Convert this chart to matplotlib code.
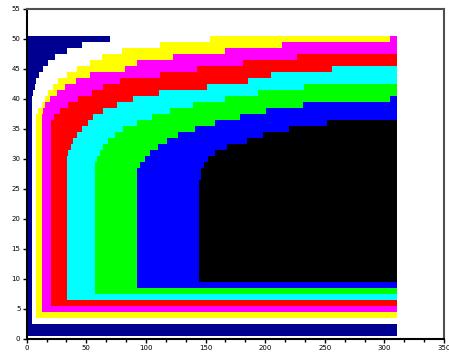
import matplotlib
matplotlib.use("Agg")
import matplotlib.pyplot as plt
import numpy as np
from matplotlib.ticker import MultipleLocator


X_RIGHT = 310.5
Y_TOP = 50.5
NAVY = "#000090"

# colour levels drawn over the navy background, outer to inner
level_colors = ["#ffffff", "#ffff00", "#ff00ff", "#ff0000",
                "#00ffff", "#00ff00", "#0000ff", "#000000"]
level_bottom = [2.5, 3.5, 4.5, 5.5, 6.5, 7.5, 8.5, 9.5]

# staircase tops: for x >= *_x[i] the level reaches *_top[i]
white_x = [4.5, 5.5, 7, 8, 10, 14, 18, 24, 34, 46, 70]
white_top = [40.5, 41.5, 42.5, 43.5, 44.5, 45.5, 46.5, 47.5, 48.5, 49.5, 50.5]

yellow_x = [7.5, 9.7, 12.6, 15.4, 18, 22.3, 26.5, 33.6, 42, 53, 63, 79.7, 111.8, 153.8]
yellow_top = [37.5, 38.5, 39.5, 40.5, 41.5, 42.5, 43.5, 44.5, 45.5, 46.5, 47.5,
              48.5, 49.5, 50.5]

magenta_x = [12.5, 13.6, 15.4, 19.5, 25, 32, 41.7, 53, 82.5, 92.8, 123, 166, 214, 305]
magenta_top = [37.5, 38.5, 39.5, 40.5, 41.5, 42.5, 43.5, 44.5, 45.5, 46.5, 47.5,
               48.5, 49.5, 50.5]

red_x = [20.5, 23, 28, 35, 43, 54.5, 64.3, 78.3, 111.8, 142.6, 181.7, 227]
red_top = [36.5, 37.5, 38.5, 39.5, 40.5, 41.5, 42.5, 43.5, 44.5, 45.5, 46.5, 47.5]

cyan_x = [33.5, 35, 37, 39, 42, 46, 51, 56, 64.3, 75.5, 89.4, 111, 151, 186, 205, 256]
cyan_top = [30.5, 31.5, 32.5, 33.5, 34.5, 35.5, 36.5, 37.5, 38.5, 39.5, 40.5,
            41.5, 42.5, 43.5, 44.5, 45.5]

green_x = [57.5, 58.7, 61.5, 64.3, 68.5, 74.1, 81, 92.3, 104.9, 120.2, 139.8,
           166.4, 194.3, 232.6]
green_top = [29.5, 30.5, 31.5, 32.5, 33.5, 34.5, 35.5, 36.5, 37.5, 38.5, 39.5,
             40.5, 41.5, 42.5]

blue_x = [92.5, 95, 99.3, 103.4, 110.4, 117.4, 127.2, 141.2, 158, 179, 201, 232, 305]
blue_top = [28.5, 29.5, 30.5, 31.5, 32.5, 33.5, 34.5, 35.5, 36.5, 37.5, 38.5,
            39.5, 40.5]

black_x = [144.5, 146.5, 149, 152, 158, 168, 184.6, 198, 219.8, 251.9]
black_top = [26.5, 28.5, 29.5, 30.5, 31.5, 32.5, 33.5, 34.5, 35.5, 36.5]

level_x = [white_x, yellow_x, magenta_x, red_x, cyan_x, green_x, blue_x, black_x]
level_top = [white_top, yellow_top, magenta_top, red_top, cyan_top, green_top,
             blue_top, black_top]

# odd cells in the first column, top left
col1_rows = [46, 47, 48, 49, 50]
col1_colors = ["#00ffff", "#00ffff", "#00ffff", "#00ffff", "#00ff00"]


fig = plt.figure(figsize=(4.49, 3.54), dpi=100)
ax = fig.add_axes([26.7 / 449, 1 - 338.5 / 354, (444 - 26.7) / 449, 330 / 354])

ax.fill_between([0.5, X_RIGHT], 0.5, Y_TOP, color=NAVY, lw=0)

for xs, tops, bottom, color in zip(level_x, level_top, level_bottom, level_colors):
    xs = np.append(xs, X_RIGHT)
    tops = np.append(tops, tops[-1])
    ax.fill_between(xs, bottom, tops, step="post", color=color, lw=0)

ax.bar([1] * len(col1_rows), 1, bottom=np.array(col1_rows) - 0.5, width=1,
       color=col1_colors, lw=0)

ax.set_xlim(0, 350)
ax.set_ylim(0, 55)
ax.xaxis.set_major_locator(MultipleLocator(50))
ax.xaxis.set_minor_locator(MultipleLocator(50 / 3))
ax.yaxis.set_major_locator(MultipleLocator(5))
ax.tick_params(direction="out", length=3, width=1, labelsize=5, pad=1.5)
ax.tick_params(which="minor", direction="out", length=2.5, width=1)

for side in ["left", "bottom"]:
    ax.spines[side].set_color("black")
    ax.spines[side].set_linewidth(1.5)
for side in ["top", "right"]:
    ax.spines[side].set_color("#505050")
    ax.spines[side].set_linewidth(1.5)

fig.savefig("out.png", dpi=100)
